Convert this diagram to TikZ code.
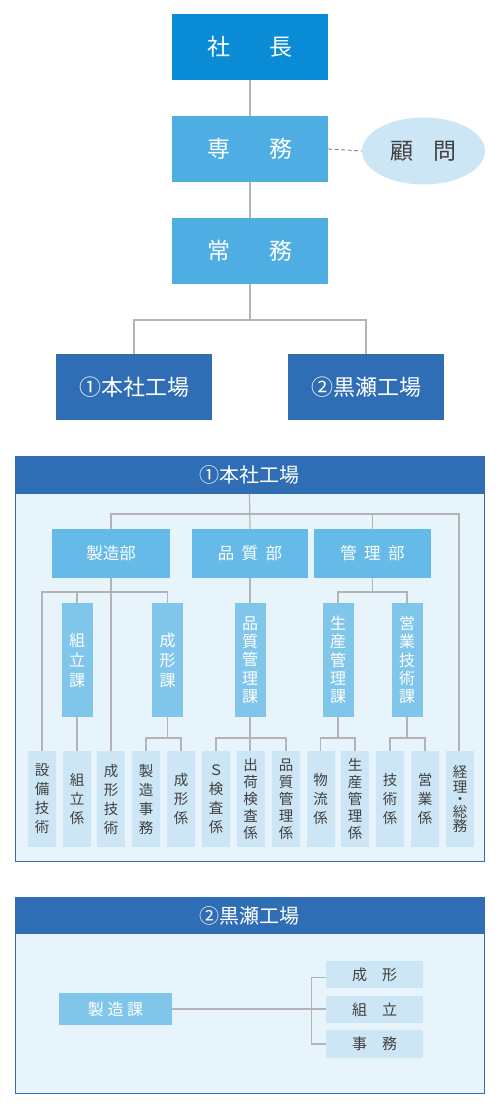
\documentclass[tikz,border=0pt]{standalone}
\usepackage{fontspec}
\setmainfont{Noto Sans CJK JP}
\usetikzlibrary{shapes.geometric}
\definecolor{boss}{HTML}{0A8BD6}
\definecolor{exec}{HTML}{4EAEE3}
\definecolor{pale}{HTML}{CDE6F5}
\definecolor{factory}{HTML}{2F6EB5}
\definecolor{framefill}{HTML}{E8F4FC}
\definecolor{bucol}{HTML}{66BAE7}
\definecolor{kacol}{HTML}{80C6EA}
\definecolor{linecol}{HTML}{B4B4B4}
\definecolor{darktext}{HTML}{404040}
\tikzset{
  box/.style={rectangle, inner sep=0pt, draw=none, align=center},
  top/.style={box, minimum width=156pt, minimum height=66pt, text=white, font=\fontsize{23}{26}\selectfont},
  fac/.style={box, fill=factory, minimum width=156pt, minimum height=66pt, text=white, font=\fontsize{22}{26}\selectfont},
  head/.style={box, fill=factory, minimum width=469pt, text=white, font=\fontsize{20}{24}\selectfont},
  bu/.style={box, fill=bucol, minimum height=49pt, text=white, font=\fontsize{16.5}{20}\selectfont},
  ka/.style={box, fill=kacol, minimum width=31pt, minimum height=114pt, text=white, font=\fontsize{16}{20}\selectfont},
  kaf/.style={ka, font=\fontsize{16}{18.3}\selectfont},
  leaf/.style={box, fill=pale, minimum width=28pt, minimum height=96pt, text=darktext, font=\fontsize{14.5}{19}\selectfont},
  leaff/.style={leaf, font=\fontsize{14.5}{17}\selectfont},
  small/.style={box, fill=pale, minimum width=97pt, minimum height=27.5pt, text=darktext, font=\fontsize{15}{18}\selectfont},
  conn/.style={draw=linecol, line width=1.2pt},
  frame/.style={draw=factory, line width=1pt, fill=framefill}
}
\begin{document}
\begin{tikzpicture}[x=1pt,y=-1pt]
\useasboundingbox (0,0) rectangle (500,1108);

% ---------- top ----------
\node[top, fill=boss] (sha) at (250,47) {社\hspace{1.7em}長};
\node[top, fill=exec] (senmu) at (250,149) {専\hspace{1.7em}務};
\node[ellipse, fill=pale, minimum width=123pt, minimum height=67pt, inner sep=0pt, text=darktext, font=\fontsize{23}{26}\selectfont] (komon) at (423.5,151) {顧\hspace{0.9em}問};
\node[top, fill=exec] (joumu) at (250,251) {常\hspace{1.7em}務};
\node[fac] (f1) at (134,387) {①本社工場};
\node[fac] (f2) at (366,387) {②黒瀬工場};
\coordinate (j1) at (250,320);
\draw[conn] (sha.south) -- (senmu.north);
\draw[conn] (senmu.south) -- (joumu.north);
\draw[draw=gray, line width=0.9pt, dash pattern=on 4pt off 2.5pt] (senmu.east) -- (komon.west);
\draw[conn] (joumu.south) -- (j1);
\draw[conn] (f1.north) |- (j1) -| (f2.north);

% ---------- section 1 ----------
\draw[frame] (15,456) rectangle (484,861);
\node[head, minimum height=38pt] (h1) at (249.5,475) {①本社工場};

\node[bu, minimum width=118pt] (seizo) at (111,553.5) {製造部};
\node[bu, minimum width=116pt] (hinshitsu) at (250,553.5) {品\hspace{0.45em}質\hspace{0.45em}部};
\node[bu, minimum width=117pt] (kanri) at (372.5,553.5) {管\hspace{0.45em}理\hspace{0.45em}部};

\node[ka] (kumika) at (77,660) {組\\立\\課};
\node[ka] (seikeika) at (167.5,660) {成\\形\\課};
\node[kaf] (hinkanka) at (250,660) {品\\質\\管\\理\\課};
\node[kaf] (seikanka) at (338,660) {生\\産\\管\\理\\課};
\node[kaf] (eigyoka) at (407,660) {営\\業\\技\\術\\課};

\node[leaf] (setsubi) at (42,799) {設\\備\\技\\術};
\node[leaf] (kumigk) at (77,799) {組\\立\\係};
\node[leaf] (seigi) at (111,799) {成\\形\\技\\術};
\node[leaf] (jimu) at (146,799) {製\\造\\事\\務};
\node[leaf] (seigk) at (181,799) {成\\形\\係};
\node[leaf] (skensa) at (216,799) {Ｓ\\検\\査\\係};
\node[leaff] (shukka) at (250.5,799) {出\\荷\\検\\査\\係};
\node[leaff] (hinkangk) at (286,799) {品\\質\\管\\理\\係};
\node[leaf] (butsuryu) at (320.5,799) {物\\流\\係};
\node[leaff] (seikangk) at (355,799) {生\\産\\管\\理\\係};
\node[leaf] (gijutsu) at (390,799) {技\\術\\係};
\node[leaf] (eigyogk) at (425,799) {営\\業\\係};
\node[leaf, font=\fontsize{14.5}{14.5}\selectfont] (keiri) at (460,799) {経\\理\\[-2pt]・\\[-2pt]総\\務};

\coordinate (t1) at (250,514);
\draw[conn] (h1.south) -- (hinshitsu.north);
\draw[conn] (seizo.north) |- (t1) -| ([xshift=-1pt]keiri.north);
\draw[conn] (kanri.north) -- (kanri.north |- t1);

\coordinate (s1) at (111,592);
\draw[conn] (seizo.south) -- (seigi.north);
\draw[conn] (setsubi.north) |- (s1) -| (seikeika.north);
\draw[conn] (kumika.north) -- (kumika.north |- s1);
\draw[conn] (kumika.south) -- (kumigk.north);

\coordinate (s2) at (167.5,738);
\draw[conn] (seikeika.south) -- (s2);
\draw[conn] (jimu.north) |- (s2) -| (seigk.north);

\coordinate (s3) at (250,738);
\draw[conn] (hinshitsu.south) -- (hinkanka.north);
\draw[conn] (hinkanka.south) -- (hinkanka.south |- shukka.north);
\draw[conn] (skensa.north) |- (s3) -| (hinkangk.north);

\coordinate (s4) at (372.5,592);
\draw[conn] (kanri.south) -- (s4);
\draw[conn] (seikanka.north) |- (s4) -| (eigyoka.north);

\coordinate (s5) at (338,738);
\draw[conn] (seikanka.south) -- (s5);
\draw[conn] (butsuryu.north) |- (s5) -| (seikangk.north);

\coordinate (s6) at (407,738);
\draw[conn] (eigyoka.south) -- (s6);
\draw[conn] (gijutsu.north) |- (s6) -| (eigyogk.north);

% ---------- section 2 ----------
\draw[frame] (15,897) rectangle (484,1093);
\node[head, minimum height=37pt] (h2) at (249.5,915.5) {②黒瀬工場};

\node[box, fill=kacol, minimum width=113pt, minimum height=32pt, text=white, font=\fontsize{16}{20}\selectfont] (seizoka) at (115.5,1009) {製\hspace{0.22em}造\hspace{0.22em}課};
\node[small] (seikei2) at (374.5,974.5) {成\hspace{1em}形};
\node[small] (kumi2) at (374.5,1009.5) {組\hspace{1em}立};
\node[small] (jimu2) at (374.5,1044) {事\hspace{1em}務};

\draw[conn] (seizoka.east) -- (kumi2.west |- seizoka.east);
\draw[conn] ([yshift=-3pt]seikei2.west) -- ++(-14,0) |- (jimu2.west);
\end{tikzpicture}
\end{document}
